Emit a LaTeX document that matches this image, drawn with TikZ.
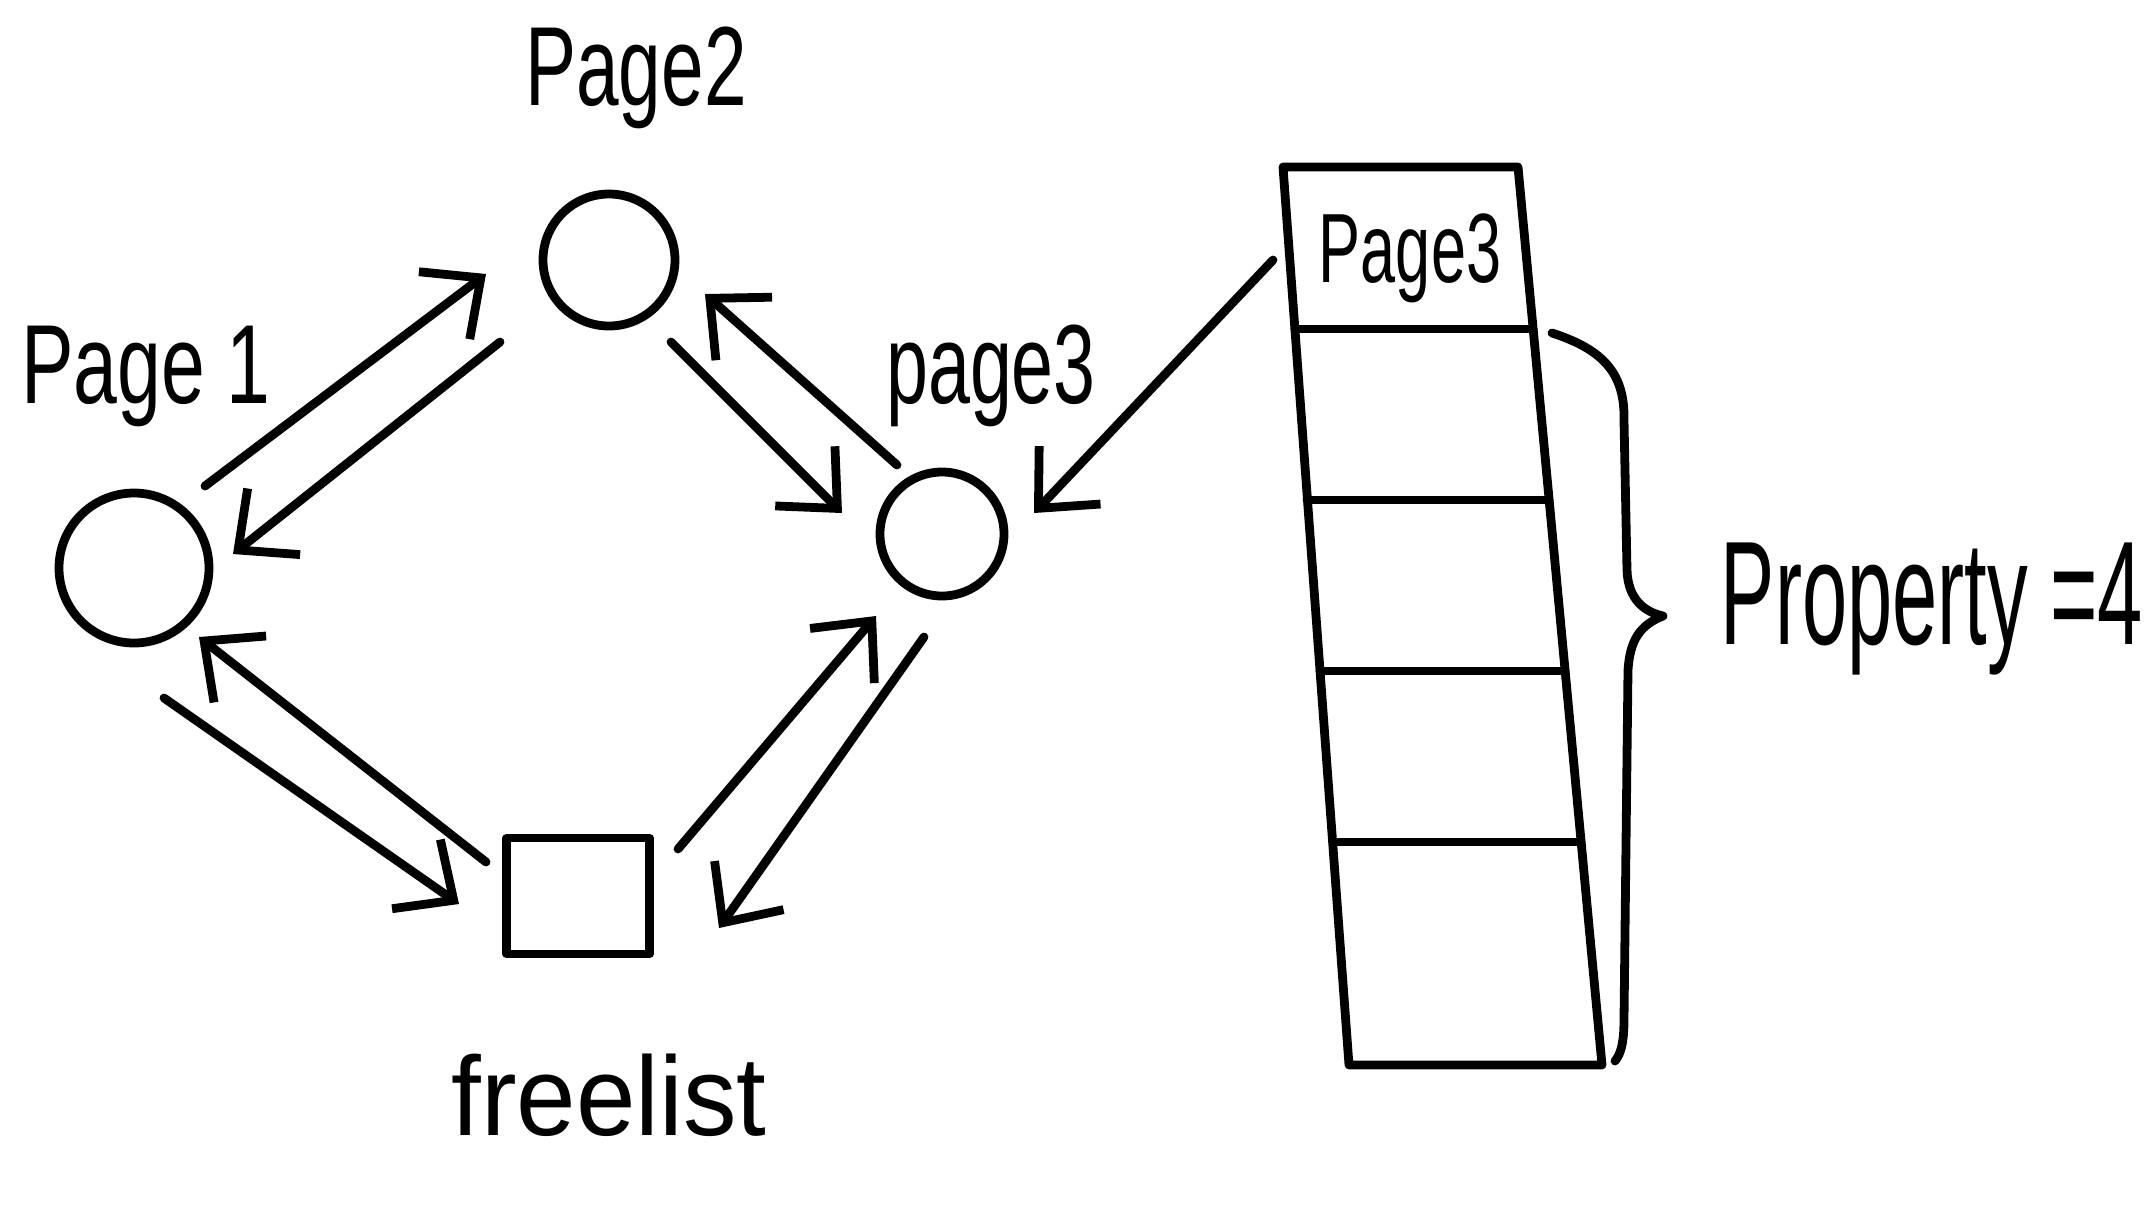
\documentclass[tikz,border=0pt]{standalone}
\usepackage{graphicx}
\usepackage{fontspec}
\setmainfont{Liberation Sans}
\usetikzlibrary{arrows.meta}
\begin{document}
\begin{tikzpicture}[x=0.01cm,y=-0.01cm,
  ink/.style={line width=2.5pt,line cap=round,line join=round},
  arr/.style={ink,-{Straight Barb[length=13pt,width=24pt,line width=2.5pt]}},
  pagecirc/.style={ink,draw,circle,inner sep=0pt},
  lbl/.style={font=\fontsize{32}{36}\selectfont,inner sep=0pt}]
\useasboundingbox (0,0) rectangle (2147,1223);
\fill[white] (0,0) rectangle (2147,1223);
% circles
\node[pagecirc,minimum size=132*0.01cm] (p2) at (609,260) {};
\node[pagecirc,minimum size=150*0.01cm] (p1) at (134,568) {};
\node[pagecirc,minimum size=124*0.01cm] (p3) at (942,534) {};
\node[ink,draw,minimum width=143*0.01cm,minimum height=116*0.01cm] (fl) at (578,896) {};
% labels
\node[lbl] (l2) at (636,78) {\scalebox{0.68}[1]{Page2}};
\node[lbl] (l1) at (146,376) {\scalebox{0.7}[1]{Page 1}};
\node[lbl] (l3) at (991,376) {\scalebox{0.67}[1]{page3}};
\node[lbl] (lf) at (609,1095) {\scalebox{0.95}[1]{freelist}};
\node[lbl,font=\fontsize{42}{46}\selectfont] (lp) at (1932,609) {\scalebox{0.55}[1]{Property =4}};
% arrow end coordinates
\coordinate (a1s) at (205,486); \coordinate (a1e) at (486,274);
\coordinate (a2s) at (500,342); \coordinate (a2e) at (233,554);
\coordinate (a3s) at (671,342); \coordinate (a3e) at (842,513);
\coordinate (a4s) at (897,465); \coordinate (a4e) at (705,294);
\coordinate (a5s) at (164,698); \coordinate (a5e) at (459,904);
\coordinate (a6s) at (486,862); \coordinate (a6e) at (199,637);
\coordinate (a7s) at (678,849); \coordinate (a7e) at (876,616);
\coordinate (a8s) at (924,637); \coordinate (a8e) at (719,928);
\draw[arr] (a1s) -- (a1e);
\draw[arr] (a2s) -- (a2e);
\draw[arr] (a3s) -- (a3e);
\draw[arr] (a4s) -- (a4e);
\draw[arr] (a5s) -- (a5e);
\draw[arr] (a6s) -- (a6e);
\draw[arr] (a7s) -- (a7e);
\draw[arr] (a8s) -- (a8e);
% tall box
\coordinate (tl) at (1283,167); \coordinate (tr) at (1518,167);
\coordinate (bl) at (1349,1065); \coordinate (br) at (1602,1065);
\draw[ink] (tl) -- (tr) -- (br) -- (bl) -- cycle;
\coordinate (r1l) at (1295,329); \coordinate (r1r) at (1533,329);
\coordinate (r2l) at (1307,500); \coordinate (r2r) at (1549,500);
\coordinate (r3l) at (1320,671); \coordinate (r3r) at (1565,671);
\coordinate (r4l) at (1333,842); \coordinate (r4r) at (1581,842);
\draw[ink] (r1l) -- (r1r);
\draw[ink] (r2l) -- (r2r);
\draw[ink] (r3l) -- (r3r);
\draw[ink] (r4l) -- (r4r);
\node[lbl,font=\fontsize{28}{32}\selectfont] (lc) at (1410,258) {\scalebox{0.64}[1]{Page3}};
\coordinate (cs) at (1273,260); \coordinate (ce) at (1034,513);
\draw[arr] (cs) -- (ce);
% brace
\coordinate (bs) at (1552,333); \coordinate (btip) at (1663,616); \coordinate (be) at (1615,1061);
\draw[ink] (bs) .. controls (1605,350) and (1625,375) .. (1624,420) -- (1627,570)
  .. controls (1628,600) and (1645,612) .. (btip)
  .. controls (1640,625) and (1630,640) .. (1628,670) -- (1624,1020)
  .. controls (1624,1045) and (1620,1055) .. (be);
\end{tikzpicture}
\end{document}
